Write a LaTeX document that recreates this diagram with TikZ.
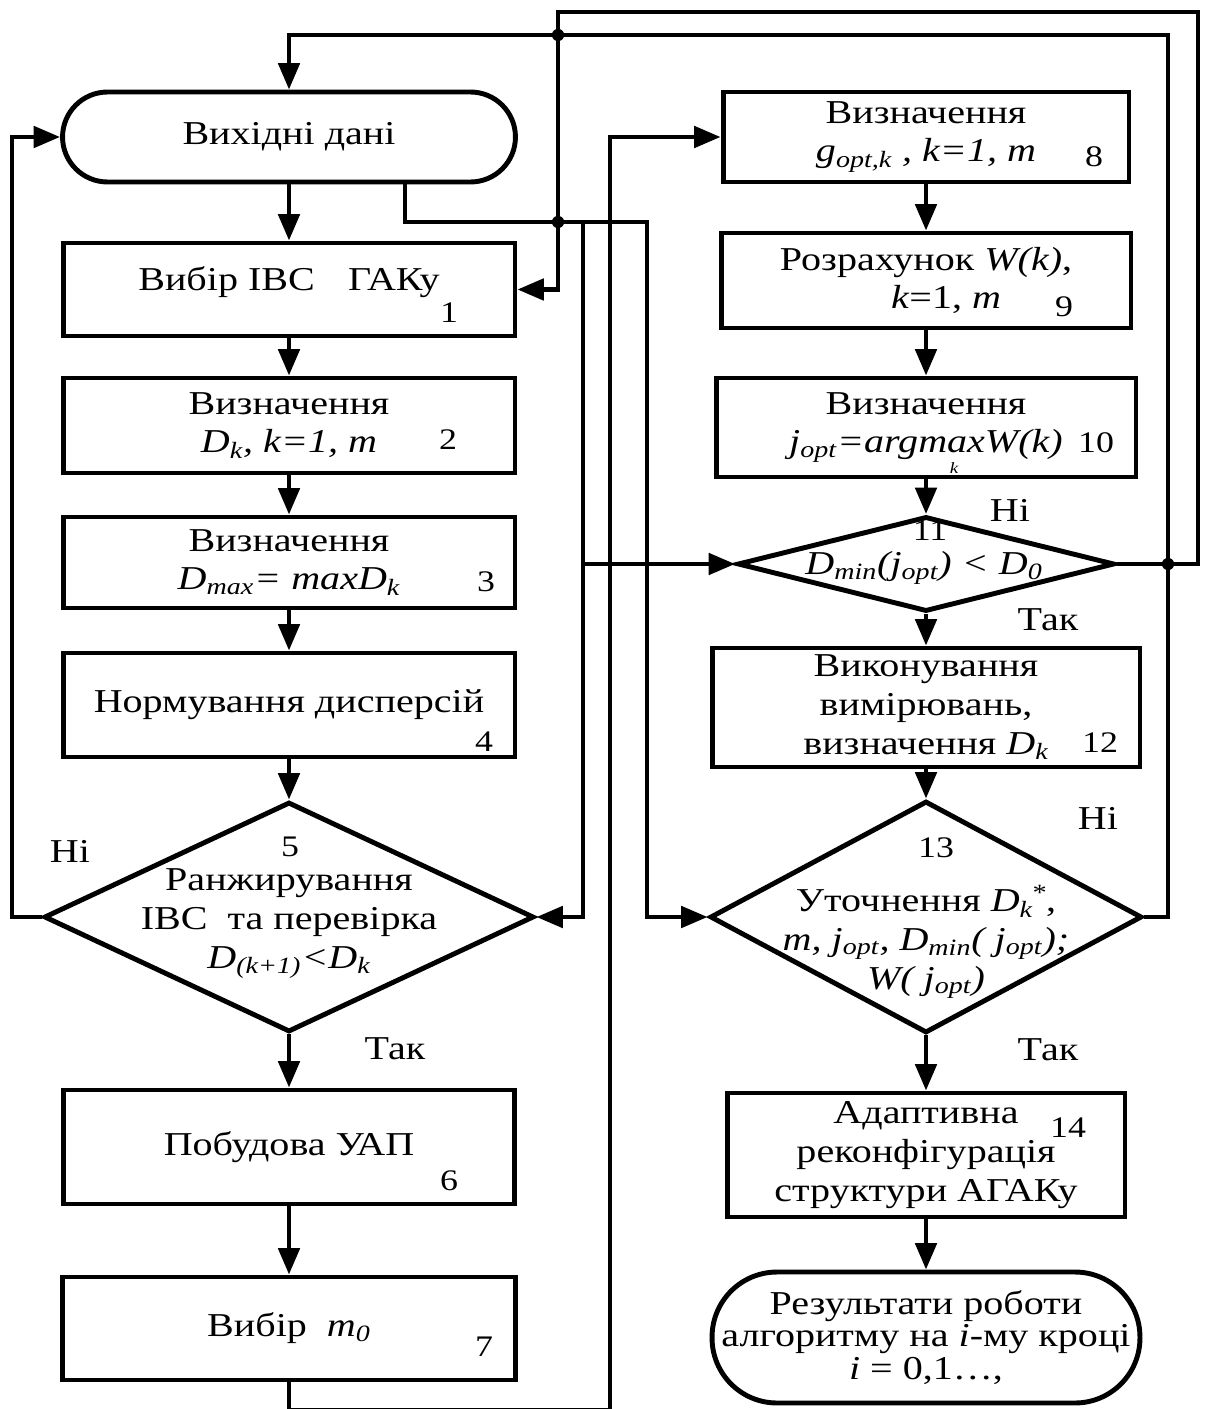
\documentclass[tikz,border=0pt]{standalone}
\usepackage{fontspec}
\setmainfont{Liberation Serif}[FakeStretch=1.2]
\usetikzlibrary{arrows.meta,shapes.geometric}
\tikzset{
  box/.style={draw, line width=2.8pt, align=center, inner sep=2pt, font=\fontsize{19}{22}\selectfont},
  term/.style={box, rounded corners=0.9cm},
  dmnd/.style={draw, diamond, line width=2.8pt, inner sep=0pt},
  txt/.style={align=center, inner sep=0pt, font=\fontsize{19}{22}\selectfont},
  num/.style={inner sep=0pt, font=\fontsize{17}{17}\selectfont},
  lbl/.style={inner sep=0pt, font=\fontsize{19}{22}\selectfont},
  arr/.style={line width=2.6pt, -{Triangle[length=15pt,width=12pt]}},
}
\begin{document}
\begin{tikzpicture}[x=0.02cm,y=-0.02cm]
\useasboundingbox (0,0) rectangle (1205,1409);
% left column
\node[term, minimum width=9.06cm, minimum height=1.8cm] (start) at (289,137) {Вихідні дані};
\node[box, minimum width=9.04cm, minimum height=1.86cm, text depth=12pt] (b1) at (289,289.5) {Вибір ІВС\quad ГАКу};
\node[box, minimum width=9.04cm, minimum height=1.9cm] (b2) at (289,425.5) {Визначення\\ \textit{D\textsubscript{k}, k=1, m}};
\node[box, minimum width=9.04cm, minimum height=1.82cm] (b3) at (289,562.5) {Визначення\\ \textit{D\textsubscript{max}= maxD\textsubscript{k}}};
\node[box, minimum width=9.04cm, minimum height=2.08cm] (b4) at (289,705) {Нормування дисперсій};
\node[dmnd, minimum width=9.8cm, minimum height=4.6cm] (d5) at (289,917) {};
\node[txt] (t5) at (289,924) {Ранжирування\\ ІВС\ \ та перевірка\\ \textit{D\textsubscript{(k+1)}<D\textsubscript{k}}};
\node[box, minimum width=9.02cm, minimum height=2.28cm] (b6) at (289,1147) {Побудова УАП};
\node[box, minimum width=9.06cm, minimum height=2.06cm] (b7) at (289,1328.5) {Вибір\ \ \textit{m\textsubscript{0}}};
% right column
\node[box, minimum width=8.12cm, minimum height=1.8cm] (b8) at (926,137) {Визначення\\ \textit{g\textsubscript{opt,k} , k=1, m}};
\node[box, minimum width=8.2cm, minimum height=1.9cm] (b9) at (926,280.5) {Розрахунок \textit{W(k)},\\ \hspace*{1.2em}\textit{k}=1, \textit{m}};
\node[box, minimum width=8.4cm, minimum height=1.98cm] (b10) at (926,427.5) {Визначення\\ \textit{j\textsubscript{opt}=argmaxW(k)}};
\node[inner sep=0pt, font=\fontsize{9}{9}\selectfont\itshape] (argk) at (954,468) {k};
\node[dmnd, minimum width=7.54cm, minimum height=1.9cm] (d11) at (926,564) {};
\node[txt] (t11) at (924,568) {\textit{D\textsubscript{min}(j\textsubscript{opt}) < D\textsubscript{0}}};
\node[box, minimum width=8.56cm, minimum height=2.38cm] (b12) at (926,707.5) {Виконування\\ вимірювань,\\ визначення \textit{D\textsubscript{k}}};
\node[dmnd, minimum width=8.64cm, minimum height=4.64cm] (d13) at (926,917) {};
\node[txt] (t13) at (926,942) {Уточнення \textit{D\textsubscript{k}\kern-1pt\textsuperscript{*}},\\ \textit{m, j\textsubscript{opt}, D\textsubscript{min}( j\textsubscript{opt});}\\ \textit{W( j\textsubscript{opt})}};
\node[box, minimum width=7.96cm, minimum height=2.48cm] (b14) at (926,1155) {Адаптивна\\ реконфігурація\\ структури АГАКу};
\node[box, rounded corners=1.3cm, minimum width=8.56cm, minimum height=2.62cm, font=\fontsize{19}{18.5}\selectfont] (end) at (926,1337.5) {Результати роботи\\ алгоритму на \textit{i}-му кроці\\ \textit{i} = 0,1\ldots,};
% block numbers
\foreach \n/\x/\y in {1/449/313, 2/448/440, 3/486/582, 4/484/742, 5/290/847, 6/449/1181, 7/484/1347,
  8/1094/157, 9/1064/307, 10/1096/443, 11/930/531, 12/1100/743, 13/936/848, 14/1068/1128}
  \node[num] (n\n) at (\x,\y) {\n};
% yes / no
\node[lbl] (no5) at (70,851) {Ні};
\node[lbl] (yes5) at (395,1049) {Так};
\node[lbl] (no11) at (1010,510) {Ні};
\node[lbl] (yes11) at (1048,620) {Так};
\node[lbl] (no13) at (1098,818) {Ні};
\node[lbl] (yes13) at (1048,1050) {Так};
% straight arrows
\foreach \a/\b in {start/b1, b1/b2, b2/b3, b3/b4, b4/d5, d5/b6, b6/b7,
  b8/b9, b9/b10, b10/d11, d11/b12, b12/d13, d13/b14, b14/end}
  \draw[arr] (\a.south) -- (\b.north);
% loops and branches
\coordinate (lf) at (12,0);
\coordinate (rt) at (1198,12);
\coordinate (lt) at (558,12);
\coordinate (rt2) at (1168,35);
\coordinate (dv) at (647,222);
\coordinate (dj) at (583,222);
\coordinate (bt) at (610,1410);
\draw[arr] (d5.west) -- (d5.west -| lf) |- (start.west);
\draw[arr] (d11.east) -| (rt) -- (lt) |- (b1.east);
\draw[arr] (d13.east) -| (rt2) -| (start.north);
\draw[arr] ([xshift=2.32cm]start.south) |- (dv) |- (d13.west);
\draw[arr] (dj) |- (d5.east);
\draw[arr] (dj |- d11.west) -- (d11.west);
\draw[arr] (b7.south) |- (bt) |- (b8.west);
\foreach \x/\y in {558/35, 558/222, 1168/564}
  \fill (\x,\y) circle[radius=3.5pt];
\end{tikzpicture}
\end{document}
